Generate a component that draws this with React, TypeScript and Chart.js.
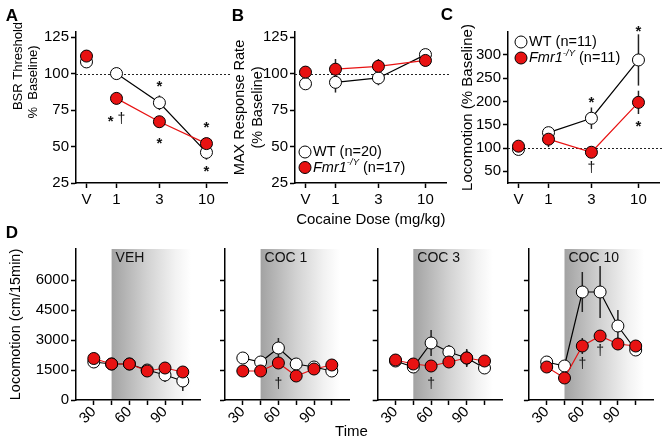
import React, { useEffect, useRef } from 'react';
import { Chart, registerables } from 'chart.js';
Chart.register(...registerables);

const FONT = "'Liberation Sans', Arial, Helvetica, sans-serif";
const RED = 'rgb(232,18,18)';

// ---------------- data: panels A-C ----------------
const doseLabels = ['V', '1', '3', '10'];
const doses = [0, 1, 3, 10];

const bsrWT = [108, 100, 80, 46];
const bsrWTErr = [0, 4, 5, 5];
const bsrKO = [112, 83, 67, 52];
const bsrKOErr = [0, 4, 4, 3];

const maxWT = [93, 94, 97, 113];
const maxWTErr = [0, 7, 5, 3];
const maxKO = [101, 103, 105, 109];
const maxKOErr = [0, 7, 5, 4];

const locoWT = [97, 133, 164, 289];
const locoWTErr = [0, 8, 23, 55];
const locoKO = [104, 119, 91, 198];
const locoKOErr = [0, 17, 6, 25];

const pctTicks = [25, 50, 75, 100, 125];
const locoPctTicks = [50, 100, 150, 200, 250, 300];

const bsrMarks = [
  { dose: 3, value: 93, text: '*' },
  { dose: 1, value: 69, text: '* †' },
  { dose: 3, value: 54.5, text: '*' },
  { dose: 10, value: 65.5, text: '*' },
  { dose: 10, value: 35, text: '*' },
];
const locoMarks = [
  { dose: 3, value: 205, text: '*' },
  { dose: 10, value: 357, text: '*' },
  { dose: 10, value: 154, text: '*' },
  { dose: 3, value: 57, text: '†' },
];

// ---------------- data: panel D ----------------
const times = [30, 45, 60, 75, 90, 105];
const timeTicks = [30, 45, 60, 75, 90, 105];
const timeTickLabels = [30, 60, 90];
const countTicks = [0, 1500, 3000, 4500, 6000];

const vehWT = [1900, 1800, 1800, 1500, 1250, 950];
const vehWTErr = [300, 200, 250, 300, 350, 500];
const vehKO = [2075, 1800, 1800, 1450, 1600, 1400];
const vehKOErr = [250, 150, 250, 250, 150, 150];

const coc1WT = [2100, 1900, 2600, 1800, 1650, 1450];
const coc1WTErr = [150, 150, 500, 200, 150, 150];
const coc1KO = [1450, 1450, 1850, 1200, 1550, 1750];
const coc1KOErr = [150, 150, 200, 150, 150, 150];

const coc3WT = [1950, 1650, 2850, 2400, 2100, 1600];
const coc3WTErr = [200, 300, 650, 350, 450, 300];
const coc3KO = [2000, 1800, 1700, 1900, 2100, 1950];
const coc3KOErr = [300, 200, 150, 200, 400, 200];

const coc10WT = [1900, 1700, 5400, 5400, 3700, 2500];
const coc10WTErr = [150, 200, 1000, 1300, 800, 250];
const coc10KO = [1650, 1100, 2700, 3200, 2800, 2700];
const coc10KOErr = [100, 150, 400, 300, 300, 200];

const coc1Marks = [{ time: 60, value: 800, text: '†' }];
const coc3Marks = [{ time: 60, value: 800, text: '†' }];
const coc10Marks = [
  { time: 60, value: 1800, text: '†' },
  { time: 75, value: 2420, text: '†' },
];

// ---------------- helpers ----------------
const doseX = (d: number) => (d === 0 ? -1 / 3 : Math.log10(d));
const R = 6;

function seriesPair(xs: number[], wt: number[], wtErr: number[], ko: number[], koErr: number[], skipFirst: boolean) {
  const seg = skipFirst
    ? { borderColor: (c: any) => (c.p0DataIndex === 0 ? 'rgba(0,0,0,0)' : undefined) }
    : undefined;
  const common = { pointRadius: R, pointBorderWidth: 1, pointBorderColor: '#000', borderWidth: 1.2, clip: false as any, segment: seg };
  return [
    { ...common, data: xs.map((x, i) => ({ x, y: ko[i] })), errors: koErr, borderColor: RED, backgroundColor: RED, pointBackgroundColor: RED },
    { ...common, data: xs.map((x, i) => ({ x, y: wt[i] })), errors: wtErr, borderColor: '#000', backgroundColor: '#fff', pointBackgroundColor: '#fff' },
  ];
}

function drawText(ctx: CanvasRenderingContext2D, text: string, x: number, y: number, font: string, rot = 0) {
  ctx.save();
  ctx.translate(x, y);
  ctx.rotate(rot);
  ctx.font = font;
  ctx.fillStyle = '#000';
  ctx.textAlign = 'center';
  ctx.textBaseline = 'middle';
  ctx.fillText(text, 0, 0);
  ctx.restore();
}

function drawMark(ctx: CanvasRenderingContext2D, text: string, x: number, y: number) {
  ctx.save();
  ctx.fillStyle = '#111';
  ctx.textBaseline = 'middle';
  ctx.textAlign = 'left';
  const chars = text.split('');
  const fonts = chars.map((c) => (c === '*' ? `bold 15px ${FONT}` : `14px ${FONT}`));
  let total = 0;
  const widths = chars.map((c, i) => { ctx.font = fonts[i]; const w = ctx.measureText(c).width; total += w; return w; });
  let cx = x - total / 2;
  chars.forEach((c, i) => {
    ctx.font = fonts[i];
    ctx.fillText(c, cx, y + (c === '*' ? 3.5 : 0));
    cx += widths[i];
  });
  ctx.restore();
}

function drawMarker(ctx: CanvasRenderingContext2D, x: number, y: number, fill: string) {
  ctx.save();
  ctx.beginPath();
  ctx.arc(x, y, R, 0, Math.PI * 2);
  ctx.fillStyle = fill;
  ctx.fill();
  ctx.lineWidth = 1;
  ctx.strokeStyle = '#000';
  ctx.stroke();
  ctx.restore();
}

const decorPlugin = {
  id: 'decor',
  beforeDraw(chart: any, _a: any, o: any) {
    if (!o || !o.shade) return;
    const { ctx, chartArea: a } = chart;
    const xs = chart.scales.x;
    const x0 = xs.getPixelForValue(o.shade.from);
    const x1 = xs.getPixelForValue(o.shade.to);
    const g = ctx.createLinearGradient(x0, 0, x1, 0);
    g.addColorStop(0, '#a2a2a2');
    g.addColorStop(0.45, '#d2d2d2');
    g.addColorStop(0.8, '#f2f2f2');
    g.addColorStop(1, '#ffffff');
    ctx.save();
    ctx.fillStyle = g;
    ctx.fillRect(x0, a.top, x1 - x0, a.bottom - a.top);
    ctx.fillStyle = '#111';
    ctx.font = `14px ${FONT}`;
    ctx.textAlign = 'left';
    ctx.textBaseline = 'middle';
    ctx.fillText(o.shade.label, x0 + 4, a.top + 9);
    ctx.restore();
  },
  beforeDatasetsDraw(chart: any, _a: any, o: any) {
    const { ctx, chartArea: a } = chart;
    const ys = chart.scales.y;
    if (o && o.refY !== undefined) {
      const y = Math.round(ys.getPixelForValue(o.refY)) + 0.5;
      ctx.save();
      ctx.setLineDash([2, 2]);
      ctx.strokeStyle = '#222';
      ctx.lineWidth = 1;
      ctx.beginPath();
      ctx.moveTo(a.left, y);
      ctx.lineTo(a.right + 3, y);
      ctx.stroke();
      ctx.restore();
    }
    chart.data.datasets.forEach((ds: any, i: number) => {
      if (!ds.errors) return;
      const meta = chart.getDatasetMeta(i);
      ctx.save();
      ctx.strokeStyle = '#222';
      ctx.lineWidth = 1.5;
      meta.data.forEach((pt: any, j: number) => {
        const e = ds.errors[j];
        if (!e) return;
        const v = ds.data[j].y;
        ctx.beginPath();
        ctx.moveTo(pt.x, ys.getPixelForValue(v + e));
        ctx.lineTo(pt.x, ys.getPixelForValue(v - e));
        ctx.stroke();
      });
      ctx.restore();
    });
  },
  afterDatasetsDraw(chart: any, _a: any, o: any) {
    if (!o) return;
    const { ctx, chartArea: a } = chart;
    const xs = chart.scales.x;
    const ys = chart.scales.y;
    (o.marks || []).forEach((m: any) => {
      drawMark(ctx, m.text, xs.getPixelForValue(m.x), ys.getPixelForValue(m.y));
    });
    if (o.legend) {
      const L = o.legend;
      L.items.forEach((it: any, k: number) => {
        const mx = a.left + L.dx;
        const my = a.top + L.dy + k * L.gap;
        drawMarker(ctx, mx, my, it.fill);
        let tx = mx + 8;
        ctx.save();
        ctx.fillStyle = '#000';
        ctx.textBaseline = 'middle';
        ctx.textAlign = 'left';
        it.parts.forEach((p: any) => {
          const size = p.sup ? 9.5 : 14.5;
          ctx.font = `${p.italic ? 'italic ' : ''}${size}px ${FONT}`;
          ctx.fillText(p.t, tx, my + (p.sup ? -5 : 0));
          tx += ctx.measureText(p.t).width;
        });
        ctx.restore();
      });
    }
  },
  afterDraw(chart: any, _a: any, o: any) {
    if (!o || !o.texts) return;
    o.texts.forEach((t: any) => drawText(chart.ctx, t.text, t.x, t.y, t.font, t.rot || 0));
  },
};

const axisStyle = () => ({
  border: { display: true, color: '#000', width: 1.5 },
  grid: { display: true, drawOnChartArea: false, drawTicks: true, tickLength: 5, tickWidth: 1.5, tickColor: '#000' },
});

function makeConfig(spec: any) {
  const { l, t, r, b } = spec.plot;
  const tickFont = { family: FONT, size: 15 };
  return {
    type: 'line',
    data: { datasets: spec.datasets },
    options: {
      responsive: false,
      animation: false,
      devicePixelRatio: 1,
      events: [],
      layout: { autoPadding: false, padding: { left: l - spec.wy, top: t, right: 667 - r, bottom: 444 - b - spec.hx } },
      plugins: { legend: { display: false }, tooltip: { enabled: false }, decor: spec.decor },
      scales: {
        x: {
          type: 'linear',
          bounds: 'data',
          min: spec.x.min,
          max: spec.x.max,
          afterBuildTicks: (s: any) => { s.ticks = spec.x.ticks.map((v: number) => ({ value: v })); },
          afterFit: (s: any) => { s.height = spec.hx; },
          ticks: {
            autoSkip: false,
            color: '#000',
            font: tickFont,
            padding: spec.x.pad ?? 3,
            minRotation: spec.x.rot || 0,
            maxRotation: spec.x.rot || 0,
            callback: spec.x.cb,
          },
          title: spec.x.title || { display: false },
          ...axisStyle(),
        },
        y: {
          type: 'linear',
          bounds: 'data',
          min: spec.y.min,
          max: spec.y.max,
          afterBuildTicks: (s: any) => { s.ticks = spec.y.ticks.map((v: number) => ({ value: v })); },
          afterFit: (s: any) => { s.width = spec.wy; },
          ticks: {
            color: '#000',
            font: tickFont,
            padding: 2,
            callback: spec.y.showLabels ? (v: any) => String(v) : () => '',
          },
          title: spec.y.title || { display: false },
          ...axisStyle(),
        },
      },
    },
    plugins: [decorPlugin],
  };
}

function buildConfigs() {
  const dx = doses.map(doseX);
  const doseAxis = {
    min: -0.45, max: 1.235,
    ticks: dx,
    cb: (_v: any, i: number) => doseLabels[i],
  };
  const top = { t: 32, b: 183 };
  const timeAxis = {
    min: 15, max: 120,
    ticks: timeTicks,
    rot: 45,
    pad: -2,
    cb: (v: any) => (timeTickLabels.includes(v) ? String(v) : ''),
  };
  const dPlot = (l: number) => ({ l, r: l + 124.6, t: 249, b: 400 });
  const dY = (show: boolean, title?: any) => ({ min: 0, max: 7550, ticks: countTicks, showLabels: show, title });
  const legendItems = (wtN: number, koN: number) => [
    { fill: '#fff', parts: [{ t: `WT (n=${wtN})` }] },
    { fill: RED, parts: [{ t: 'Fmr1', italic: true }, { t: '-/Y', italic: true, sup: true }, { t: ` (n=${koN})` }] },
  ];
  const bold = `bold 17px ${FONT}`;

  return [
    // A
    makeConfig({
      plot: { l: 76, r: 227.6, ...top }, wy: 70, hx: 40,
      x: doseAxis,
      y: { min: 25, max: 128.5, ticks: pctTicks, showLabels: true },
      datasets: seriesPair(dx, bsrWT, bsrWTErr, bsrKO, bsrKOErr, true),
      decor: {
        refY: 100,
        marks: bsrMarks.map((m) => ({ x: doseX(m.dose), y: m.value, text: m.text })),
        texts: [
          { text: 'A', x: 12, y: 16, font: bold },
          { text: 'BSR Threshold', x: 18.5, y: 66, font: `13px ${FONT}`, rot: -Math.PI / 2 },
          { text: '%  Baseline)', x: 33.5, y: 82, font: `13px ${FONT}`, rot: -Math.PI / 2 },
        ],
      },
    }),
    // B
    makeConfig({
      plot: { l: 295, r: 446.6, ...top }, wy: 65, hx: 46,
      x: { ...doseAxis, title: { display: true, text: 'Cocaine Dose (mg/kg)', color: '#000', font: { family: FONT, size: 15 }, padding: { top: 0, bottom: 0 } } },
      y: {
        min: 25, max: 128.5, ticks: pctTicks, showLabels: true,
        title: { display: true, text: ['MAX Response Rate', '(% Baseline)'], color: '#000', font: { family: FONT, size: 14.5 }, padding: { top: 1.5, bottom: 0 } },
      },
      datasets: seriesPair(dx, maxWT, maxWTErr, maxKO, maxKOErr, true),
      decor: {
        refY: 100,
        legend: { dx: 10, dy: 120, gap: 15.5, items: legendItems(20, 17) },
        texts: [{ text: 'B', x: 238, y: 16, font: bold }],
      },
    }),
    // C
    makeConfig({
      plot: { l: 508, r: 659.6, ...top }, wy: 50, hx: 40,
      x: doseAxis,
      y: {
        min: 25, max: 349, ticks: locoPctTicks, showLabels: true,
        title: { display: true, text: 'Locomotion (% Baseline)', color: '#000', font: { family: FONT, size: 15 }, padding: { top: 1, bottom: 0 } },
      },
      datasets: seriesPair(dx, locoWT, locoWTErr, locoKO, locoKOErr, true),
      decor: {
        refY: 100,
        marks: locoMarks.map((m) => ({ x: doseX(m.dose), y: m.value, text: m.text })),
        legend: { dx: 13, dy: 10, gap: 16, items: legendItems(11, 11) },
        texts: [{ text: 'C', x: 447, y: 15, font: bold }],
      },
    }),
    // D - VEH
    makeConfig({
      plot: dPlot(76), wy: 70, hx: 30,
      x: timeAxis,
      y: dY(true, { display: true, text: 'Locomotion (cm/15min)', color: '#000', font: { family: FONT, size: 14.5 }, padding: { top: 1.3, bottom: 0 } }),
      datasets: seriesPair(times, vehWT, vehWTErr, vehKO, vehKOErr, false),
      decor: {
        shade: { from: 45, to: 112, label: 'VEH' },
        texts: [{ text: 'D', x: 12, y: 233, font: bold }],
      },
    }),
    // D - COC 1
    makeConfig({
      plot: dPlot(225), wy: 10, hx: 30,
      x: timeAxis,
      y: dY(false),
      datasets: seriesPair(times, coc1WT, coc1WTErr, coc1KO, coc1KOErr, false),
      decor: {
        shade: { from: 45, to: 112, label: 'COC 1' },
        marks: coc1Marks.map((m) => ({ x: m.time, y: m.value, text: m.text })),
        texts: [{ text: 'Time', x: 351.5, y: 432, font: `15px ${FONT}` }],
      },
    }),
    // D - COC 3
    makeConfig({
      plot: dPlot(377.7), wy: 10, hx: 30,
      x: timeAxis,
      y: dY(false),
      datasets: seriesPair(times, coc3WT, coc3WTErr, coc3KO, coc3KOErr, false),
      decor: {
        shade: { from: 45, to: 112, label: 'COC 3' },
        marks: coc3Marks.map((m) => ({ x: m.time, y: m.value, text: m.text })),
      },
    }),
    // D - COC 10
    makeConfig({
      plot: dPlot(528.9), wy: 10, hx: 30,
      x: timeAxis,
      y: dY(false),
      datasets: seriesPair(times, coc10WT, coc10WTErr, coc10KO, coc10KOErr, false),
      decor: {
        shade: { from: 45, to: 112, label: 'COC 10' },
        marks: coc10Marks.map((m) => ({ x: m.time, y: m.value, text: m.text })),
      },
    }),
  ];
}

export default function App() {
  const refs = useRef<(HTMLCanvasElement | null)[]>([]);
  const N = 7;
  useEffect(() => {
    const cfgs = buildConfigs();
    const charts = cfgs.map((cfg, i) => new Chart(refs.current[i] as HTMLCanvasElement, cfg as any));
    return () => charts.forEach((c) => c.destroy());
  }, []);
  return (
    <div style={{ position: 'fixed', left: 0, top: 0, width: 667, height: 444, background: '#fff', overflow: 'hidden' }}>
      {Array.from({ length: N }).map((_, i) => (
        <canvas
          key={i}
          ref={(el) => { refs.current[i] = el; }}
          width={667}
          height={444}
          style={{ position: 'absolute', left: 0, top: 0, width: 667, height: 444 }}
        />
      ))}
    </div>
  );
}
